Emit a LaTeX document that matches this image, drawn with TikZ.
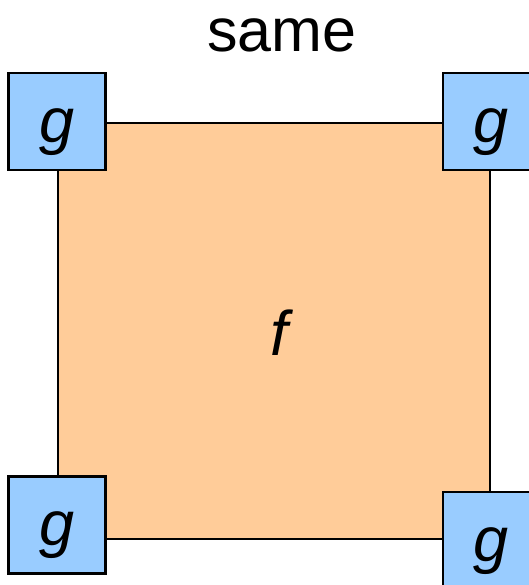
\documentclass[tikz,border=0pt]{standalone}
\usepackage{fontspec}
\setmainfont{Liberation Sans}
\usetikzlibrary{calc}
\definecolor{peach}{HTML}{FFCC99}
\definecolor{skyblue}{HTML}{99CCFF}

\begin{document}
\begin{tikzpicture}[
  x=1pt, y=-1pt,
  every node/.style={font=\fontsize{61}{72}\selectfont},
  fsquare/.style={rectangle, draw=black, line width=2.5pt, fill=peach, minimum width=432pt, minimum height=416pt, inner sep=0pt},
  gsquare/.style={rectangle, draw=black, line width=2.5pt, fill=skyblue, minimum size=97pt, inner sep=0pt},
  gtext/.style={anchor=base, inner sep=0pt, font=\fontsize{63}{72}\selectfont\itshape}
]
\useasboundingbox (0,0) rectangle (528,585);
\node[anchor=base, inner sep=0pt] (title) at (282,52) {same};
\node[fsquare] (sq) at (274,331) {};
\node[gtext] (flabel) at (279,355) {f};

\node[gsquare] (gtl) at (sq.north west) {};
\node[gsquare] (gtr) at (sq.north east) {};
\node[gsquare] (gbl) at ($(sq.south west)+(0,-15.5)$) {};
\node[gsquare] (gbr) at (sq.south east) {};
\node[gtext] (gtllabel) at ($(gtl.center)+(0,21)$) {g};
\node[gtext] (gtrlabel) at ($(gtr.center)+(0,21)$) {g};
\node[gtext] (gbllabel) at ($(gbl.center)+(0,21)$) {g};
\node[gtext] (gbrlabel) at ($(gbr.center)+(0,21)$) {g};
\end{tikzpicture}
\end{document}
